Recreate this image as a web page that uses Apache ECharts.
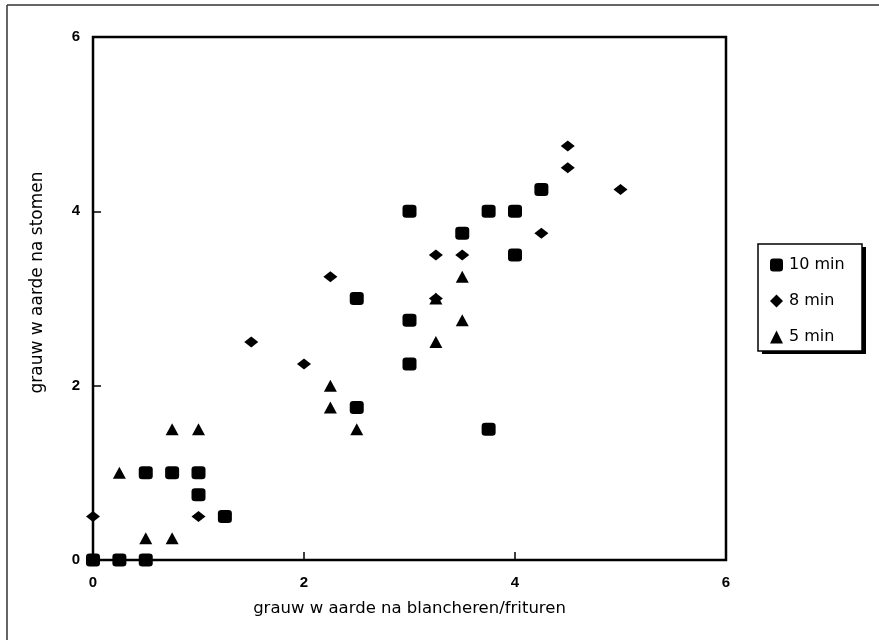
<!DOCTYPE html>
<html>
<head>
<meta charset="utf-8">
<style>
  html, body { margin: 0; padding: 0; background: #fff; }
  #chart { width: 879px; height: 640px; }
</style>
<script src="https://cdn.jsdelivr.net/npm/echarts@6/dist/echarts.min.js"></script>
</head>
<body>
<div id="chart"></div>
<script>
// Grey value after blanching/frying (x) versus after steaming (y), three steaming times.
const xTicks = [0, 2, 4, 6];
const yTicks = [0, 2, 4, 6];
const seriesNames = ['10 min', '8 min', '5 min'];

const min10 = [
  [0, 0], [0.25, 0], [0.5, 0], [0.5, 1], [0.75, 1], [1, 1], [1, 0.75], [1.25, 0.5],
  [2.5, 1.75], [2.5, 3], [3, 4], [3, 2.75], [3, 2.25], [3.5, 3.75], [3.75, 4],
  [3.75, 1.5], [4, 4], [4, 3.5], [4.25, 4.25]
];
const min8 = [
  [0, 0.5], [1, 0.5], [1.5, 2.5], [2, 2.25], [2.25, 3.25], [3.25, 3.5], [3.5, 3.5],
  [3.25, 3], [4.25, 3.75], [4.5, 4.75], [4.5, 4.5], [5, 4.25]
];
const min5 = [
  [0.25, 1], [0.5, 0.25], [0.75, 0.25], [0.75, 1.5], [1, 1.5], [2.25, 2], [2.25, 1.75],
  [2.5, 1.5], [3.25, 2.5], [3.25, 3], [3.5, 2.75], [3.5, 3.25]
];

const chart = echarts.init(document.getElementById('chart'), null, { renderer: 'canvas' });

const axisCommon = {
  min: 0, max: 6, interval: 2,
  axisLine: { show: true, onZero: false, lineStyle: { color: '#000', width: 2 } },
  axisTick: { show: true, inside: true, length: 8, lineStyle: { color: '#000', width: 1.5 } },
  splitLine: { show: false },
  nameLocation: 'middle'
};

const markStyle = { color: '#000', opacity: 1 };

// legend frame with a solid drop shadow on the right and bottom
const legendBox = { x: 758, y: 244, width: 104, height: 107 };

chart.setOption({
  backgroundColor: '#fff',
  animation: false,
  textStyle: { fontFamily: 'DejaVu Sans', color: '#000' },
  grid: { left: 93, right: 153, top: 37, bottom: 80, show: true, borderColor: '#000', borderWidth: 2.5, backgroundColor: 'transparent' },
  xAxis: Object.assign({}, axisCommon, {
    type: 'value',
    name: 'grauw w aarde na blancheren/frituren',
    nameGap: 40,
    nameTextStyle: { fontFamily: 'DejaVu Sans', fontSize: 16.5, color: '#000' },
    axisLabel: {
      margin: 15, color: '#000', fontFamily: 'Liberation Sans', fontSize: 15, fontWeight: 'bold',
      formatter: v => xTicks.includes(v) ? String(v) : ''
    }
  }),
  yAxis: Object.assign({}, axisCommon, {
    type: 'value',
    name: 'grauw w aarde na stomen',
    nameGap: 47,
    nameTextStyle: { fontFamily: 'DejaVu Sans', fontSize: 17, color: '#000', padding: [0, 0, 0, 32] },
    axisLabel: {
      margin: 13, color: '#000', fontFamily: 'Liberation Sans', fontSize: 15, fontWeight: 'bold',
      formatter: v => yTicks.includes(v) ? String(v) : ''
    }
  }),
  legend: {
    orient: 'vertical',
    left: legendBox.x, top: legendBox.y,
    padding: [13, 13, 7, 12],
    itemWidth: 13, itemHeight: 13, itemGap: 20,
    symbolKeepAspect: true,
    textStyle: { fontFamily: 'DejaVu Sans', fontSize: 16, color: '#000', lineHeight: 16, padding: [0, 0, 0, 1] },
    data: seriesNames
  },
  series: [
    { name: seriesNames[0], type: 'scatter', data: min10, symbol: 'roundRect', symbolSize: [14, 13], clip: false,
      itemStyle: markStyle },
    { name: seriesNames[1], type: 'scatter', data: min8, symbol: 'diamond', symbolSize: [14, 11], clip: false,
      itemStyle: markStyle },
    { name: seriesNames[2], type: 'scatter', data: min5, symbol: 'triangle', symbolSize: [13, 12], clip: false,
      itemStyle: markStyle }
  ],
  graphic: [
    { type: 'line', silent: true, shape: { x1: 7, y1: 5, x2: 879, y2: 5 }, style: { stroke: '#333', lineWidth: 1.5 } },
    { type: 'line', silent: true, shape: { x1: 7, y1: 5, x2: 7, y2: 640 }, style: { stroke: '#333', lineWidth: 1.5 } },
    { type: 'rect', silent: true, z: 0,
      shape: { x: legendBox.x + 4, y: legendBox.y + 3, width: legendBox.width, height: legendBox.height },
      style: { fill: '#000' } },
    { type: 'rect', silent: true, z: 1,
      shape: legendBox,
      style: { fill: '#fff', stroke: '#000', lineWidth: 1.5 } }
  ]
});
</script>
</body>
</html>
